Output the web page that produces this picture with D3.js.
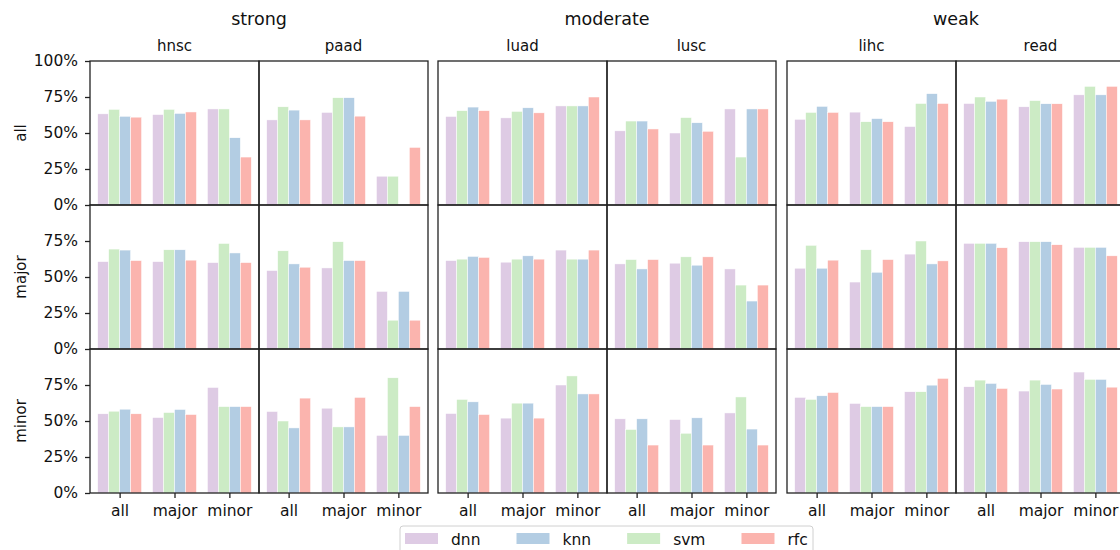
<!DOCTYPE html>
<html>
<head>
<meta charset="utf-8">
<script src="https://cdn.jsdelivr.net/npm/d3@7"></script>
<style>
  html, body { margin: 0; padding: 0; background: #fff; }
  svg { display: block; font-family: "DejaVu Sans", sans-serif; }
</style>
</head>
<body>
<svg id="chart" width="1120" height="550"></svg>
<script>
// ---- data ----
const groups = ["strong", "moderate", "weak"];
const cancers = [["hnsc", "paad"], ["luad", "lusc"], ["lihc", "read"]];
const rowLabels = ["all", "major", "minor"];
const categories = ["all", "major", "minor"];
const methods = ["dnn", "knn", "svm", "rfc"];       // legend order
const barOrder = ["dnn", "svm", "knn", "rfc"];      // order of bars in each group
const colors = { dnn: "#decbe4", knn: "#b3cde3", svm: "#ccebc5", rfc: "#fbb4ae" };
const yTicksTop = [0, 0.25, 0.5, 0.75, 1];
const yTicksOther = [0, 0.25, 0.5, 0.75];

// values in % ; [row][cancer: hnsc, paad, luad, lusc, lihc, read][category: all, major, minor]
const dnn = [
  [[63.3, 62.8, 66.7], [59.1, 64.3, 20], [61.5, 60.5, 68.8], [51.5, 50, 66.7], [59.5, 64.5, 54.5], [70.5, 68.2, 76.5]],
  [[60.7, 60.7, 60], [54.5, 56.3, 40], [61.4, 60.3, 68.7], [59.1, 59.6, 55.6], [56.1, 46.5, 65.9], [73.4, 74.5, 70.6]],
  [[55, 52.4, 73.3], [56.6, 58.9, 40], [55.2, 52, 75], [51.5, 51, 55.6], [66.4, 62.2, 70.3], [73.8, 70.8, 84]]
];
const svm = [
  [[66.4, 66.4, 66.7], [68.2, 74.5, 20], [65.5, 65, 68.8], [58.3, 60.7, 33.3], [64.3, 57.8, 70.5], [75, 72.5, 82.4]],
  [[69.4, 68.9, 73.3], [68.2, 74.5, 20], [62.4, 62.4, 62.4], [62.1, 64, 44.4], [72, 68.9, 75], [73.4, 74.5, 70.6]],
  [[56.8, 55.9, 60], [50, 45.9, 80], [65, 62.4, 81.3], [44.1, 41.5, 66.7], [65, 60, 70.3], [78.4, 78.4, 78.9]]
];
const knn = [
  [[61.6, 63.6, 46.7], [65.9, 74.5, null], [68, 67.5, 68.8], [58.3, 57.1, 66.7], [68.5, 60, 77.3], [72, 70.3, 76.5]],
  [[68.7, 68.9, 66.7], [59.1, 61.4, 40], [64.3, 64.7, 62.4], [55.6, 58.2, 33.3], [56.1, 53.3, 59.1], [73.4, 74.5, 70.6]],
  [[58.2, 58, 60], [45.2, 45.9, 40], [63.3, 62.4, 68.8], [51.5, 52.2, 44.4], [67.5, 60, 74.9], [76.1, 75.4, 78.9]]
];
const rfc = [
  [[61, 64.6, 33.3], [59.1, 61.7, 40], [65.5, 64, 75], [52.8, 51.2, 66.7], [64.3, 57.8, 70.5], [73.5, 70.3, 82.4]],
  [[61.4, 61.7, 60], [56.8, 61.4, 20], [63.6, 62.4, 68.7], [62.1, 64, 44.4], [61.7, 62.1, 61.2], [70.3, 72.4, 64.7]],
  [[55, 54.5, 60], [65.9, 66.4, 60], [54.5, 52, 68.8], [33.3, 33.3, 33.3], [69.8, 60, 79.6], [72.6, 72.2, 73.5]]
];
const seriesValues = { dnn, svm, knn, rfc };

// ---- layout ----
const svg = d3.select("#chart");
const groupLeft = [90, 438, 787];
const panelW = 169;
const topY = 61, rowH = 144;
const lineColor = "#222";
const tickFont = "15.5px";

const x = d3.scaleLinear().domain([-0.54, 2.54]).range([0, panelW]);
const y = d3.scaleLinear().domain([0, 1]).range([rowH, 0]);
const barW = x(0.2) - x(0);

groups.forEach((g, gi) => {
  const gx = groupLeft[gi];
  svg.append("text")
    .attr("x", gx + panelW).attr("y", 25)
    .attr("text-anchor", "middle")
    .style("font-size", "17.5px").attr("fill", "#111")
    .text(g);

  cancers[gi].forEach((c, ci) => {
    const px = gx + ci * panelW;
    const cIndex = gi * 2 + ci;
    svg.append("text")
      .attr("x", px + panelW / 2).attr("y", 51)
      .attr("text-anchor", "middle")
      .style("font-size", "15px").attr("fill", "#111")
      .text(c);

    rowLabels.forEach((r, ri) => {
      const py = topY + ri * rowH;
      const panel = svg.append("g").attr("transform", `translate(${px},${py})`);

      barOrder.forEach((m, mi) => {
        const vals = seriesValues[m][ri][cIndex];
        panel.selectAll(null)
          .data(categories.map((cat, k) => ({ k, v: vals[k] })).filter(d => d.v != null))
          .join("rect")
          .attr("x", d => x(d.k + (mi - 1.5) * 0.2) - barW / 2)
          .attr("width", barW)
          .attr("y", d => y(d.v / 100))
          .attr("height", d => y(0) - y(d.v / 100))
          .attr("fill", colors[m])
          .attr("stroke", "#fff")
          .attr("stroke-width", 0.5);
      });

      panel.append("rect")
        .attr("x", 0).attr("y", 0)
        .attr("width", panelW).attr("height", rowH)
        .attr("fill", "none")
        .attr("stroke", lineColor)
        .attr("stroke-width", 1.3);

      if (gi === 0 && ci === 0) {
        const ax = panel.append("g")
          .call(d3.axisLeft(y)
            .tickValues(ri === 0 ? yTicksTop : yTicksOther)
            .tickFormat(d3.format(".0%"))
            .tickSize(5).tickPadding(7));
        ax.select(".domain").remove();
        ax.selectAll("line").attr("stroke", lineColor).attr("stroke-width", 1.3);
        ax.selectAll("text").style("font-size", tickFont).attr("fill", "#111")
          .style("font-family", "DejaVu Sans");
      }
      if (ri === 2) {
        const bx = panel.append("g").attr("transform", `translate(0,${rowH})`)
          .call(d3.axisBottom(x)
            .tickValues([0, 1, 2])
            .tickFormat(i => categories[i])
            .tickSize(5).tickPadding(7));
        bx.select(".domain").remove();
        bx.selectAll("line").attr("stroke", lineColor).attr("stroke-width", 1.3);
        bx.selectAll("text").style("font-size", tickFont).attr("fill", "#111")
          .style("font-family", "DejaVu Sans");
      }
    });
  });
});

// row labels
rowLabels.forEach((r, ri) => {
  svg.append("text")
    .attr("transform", `translate(26,${topY + ri * rowH + rowH / 2}) rotate(-90)`)
    .attr("text-anchor", "middle")
    .style("font-size", "15px").attr("fill", "#111")
    .text(r);
});

// legend
const leg = svg.append("g");
leg.append("rect")
  .attr("x", 400).attr("y", 526).attr("width", 413).attr("height", 34)
  .attr("rx", 3).attr("fill", "#fff")
  .attr("stroke", "#d0d0d0").attr("stroke-width", 1);
let lx = 405;
methods.forEach(m => {
  leg.append("rect").attr("x", lx).attr("y", 533).attr("width", 33).attr("height", 11)
    .attr("fill", colors[m]);
  const t = leg.append("text").attr("x", lx + 46).attr("y", 545)
    .style("font-size", tickFont).attr("fill", "#111").text(m);
  lx += 46 + t.node().getComputedTextLength() + 36;
});
</script>
</body>
</html>
